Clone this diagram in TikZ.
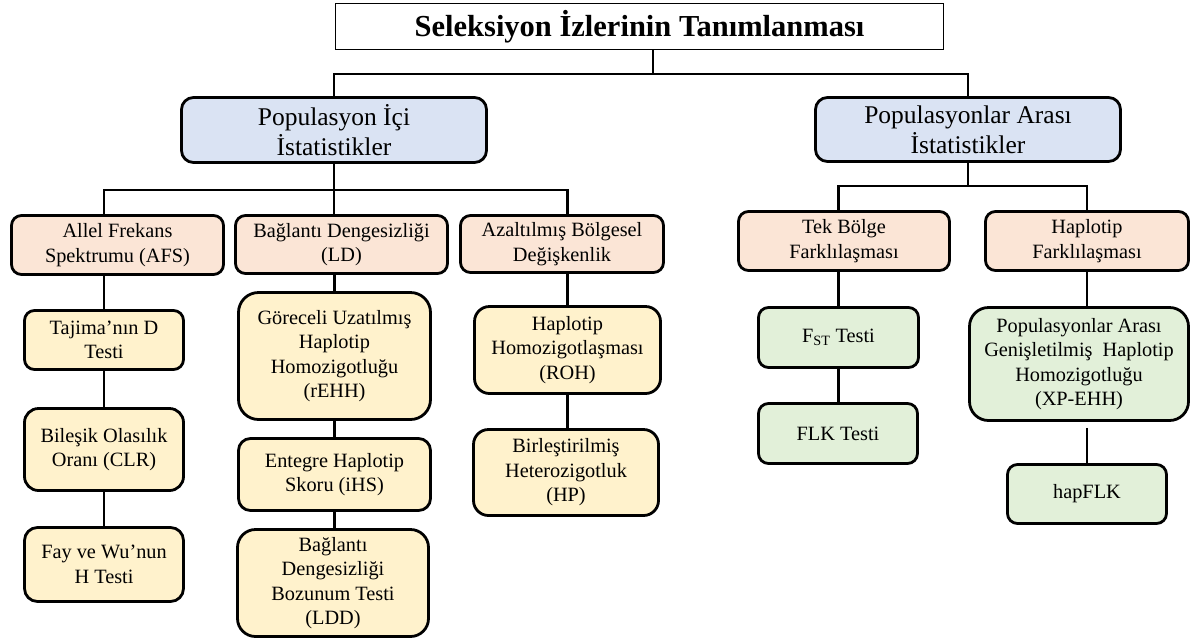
\documentclass[tikz,border=0pt]{standalone}
\usepackage{fontspec}
\setmainfont{Liberation Serif}
\usetikzlibrary{calc}
\definecolor{cblue}{HTML}{DAE3F3}
\definecolor{cpeach}{HTML}{FBE5D6}
\definecolor{cyellow}{HTML}{FFF2CC}
\definecolor{cgreen}{HTML}{E2F0D9}
\begin{document}
\begin{tikzpicture}[x=1pt,y=-1pt,
  box/.style={draw,line width=2.8pt,rounded corners=10pt,align=center,inner sep=0pt,
    font=\fontsize{20.3}{24.5}\selectfont},
  lvlone/.style={box,fill=cblue,rounded corners=12pt,font=\fontsize{25.5}{30}\selectfont},
  lvltwo/.style={box,fill=cpeach},
  ytest/.style={box,fill=cyellow},
  gtest/.style={box,fill=cgreen},
  titlebox/.style={draw,line width=1.3pt,fill=white,align=center,inner sep=0pt,
    font=\bfseries\fontsize{30.5}{34}\selectfont},
  conn/.style={line width=2.6pt}]
\useasboundingbox (0,0) rectangle (1194,641);
% title
\node[titlebox,minimum width=608pt,minimum height=46pt] (title) at (639.5,26.5) {Seleksiyon İzlerinin Tanımlanması};
% level one
\node[lvlone,minimum width=305pt,minimum height=65pt] (popici) at (334,130) {Populasyon İçi\\İstatistikler};
\node[lvlone,minimum width=305pt,minimum height=64pt] (poparasi) at (968,129.5) {Populasyonlar Arası\\İstatistikler};
% level two
\node[lvltwo,minimum width=212pt,minimum height=59pt] (afs) at (117.5,245) {Allel Frekans\\Spektrumu (AFS)};
\node[lvltwo,minimum width=212pt,minimum height=58pt] (ld) at (341.5,244.5) {Bağlantı Dengesizliği\\(LD)};
\node[lvltwo,minimum width=203pt,minimum height=57pt] (azalt) at (562,244) {Azaltılmış Bölgesel\\Değişkenlik};
\node[lvltwo,minimum width=211pt,minimum height=59pt] (tek) at (844,241) {Tek Bölge\\Farklılaşması};
\node[lvltwo,minimum width=203pt,minimum height=59pt] (haplo) at (1087,241) {Haplotip\\Farklılaşması};
% left column tests
\node[ytest,minimum width=159pt,minimum height=59pt] (tajima) at (104,340) {Tajima’nın D\\Testi};
\node[ytest,minimum width=159pt,minimum height=82pt,rounded corners=14pt] (clr) at (104,449.5) {Bileşik Olasılık\\Oranı (CLR)};
\node[ytest,minimum width=159pt,minimum height=74pt,rounded corners=13pt] (fay) at (104,564.5) {Fay ve Wu’nun\\H Testi};
% LD column
\node[ytest,minimum width=192pt,minimum height=127pt,rounded corners=20pt] (rehh) at (334.5,356) {Göreceli Uzatılmış\\Haplotip\\Homozigotluğu\\(rEHH)};
\node[ytest,minimum width=192pt,minimum height=72pt,rounded corners=12pt] (ihs) at (334.5,474.5) {Entegre Haplotip\\Skoru (iHS)};
\node[ytest,minimum width=191pt,minimum height=107pt,rounded corners=18pt] (ldd) at (333,583) {Bağlantı\\Dengesizliği\\Bozunum Testi\\(LDD)};
% reduced variability column
\node[ytest,minimum width=186pt,minimum height=87pt,rounded corners=15pt] (roh) at (567.5,350) {Haplotip\\Homozigotlaşması\\(ROH)};
\node[ytest,minimum width=185pt,minimum height=86pt,rounded corners=15pt] (hp) at (566,472.5) {Birleştirilmiş\\Heterozigotluk\\(HP)};
% right columns
\node[gtest,minimum width=160pt,minimum height=60pt] (fst) at (838.5,337.5) {F\textsubscript{ST} Testi};
\node[gtest,minimum width=159pt,minimum height=60pt] (flk) at (838,433.5) {FLK Testi};
\node[gtest,minimum width=219pt,minimum height=113pt,rounded corners=19pt] (xp) at (1079,364) {Populasyonlar Arası\\Genişletilmiş~ Haplotip\\Homozigotluğu\\(XP-EHH)};
\node[gtest,minimum width=159pt,minimum height=59pt] (hapflk) at (1087,494) {hapFLK};
% connectors
\coordinate (j0) at (653,74);
\coordinate (j1) at (334,190);
\coordinate (j2) at (968,186);
\draw[conn] (title.south -| j0) -- (j0);
\draw[conn] (popici.north) |- (j0) -| (poparasi.north);
\draw[conn] (popici.south) -- (j1);
\draw[conn] (tajima.north |- afs.north) |- (j1) -| (roh.north |- azalt.north);
\draw[conn] (j1) -- (popici.south |- ld.north);
\draw[conn] (poparasi.south) -- (j2);
\draw[conn] (fst.north |- tek.north) |- (j2) -| (haplo.north);
\draw[conn] (tajima.north |- afs.south) -- (tajima.north);
\draw[conn] (tajima.south) -- (clr.north);
\draw[conn] (clr.south) -- (fay.north);
\draw[conn] (rehh.north |- ld.south) -- (rehh.north);
\draw[conn] (rehh.south) -- (ihs.north);
\draw[conn] (ihs.south) -- (ihs.south |- ldd.north);
\draw[conn] (roh.north |- azalt.south) -- (roh.north);
\draw[conn] (roh.south) -- (roh.south |- hp.north);
\draw[conn] (fst.north |- tek.south) -- (fst.north);
\draw[conn] (fst.south) -- (fst.south |- flk.north);
\draw[conn] (hapflk.north |- haplo.south) -- (hapflk.north |- xp.north);
\draw[conn] ($(hapflk.north |- xp.south)+(0,6)$) -- (hapflk.north);
\end{tikzpicture}
\end{document}
